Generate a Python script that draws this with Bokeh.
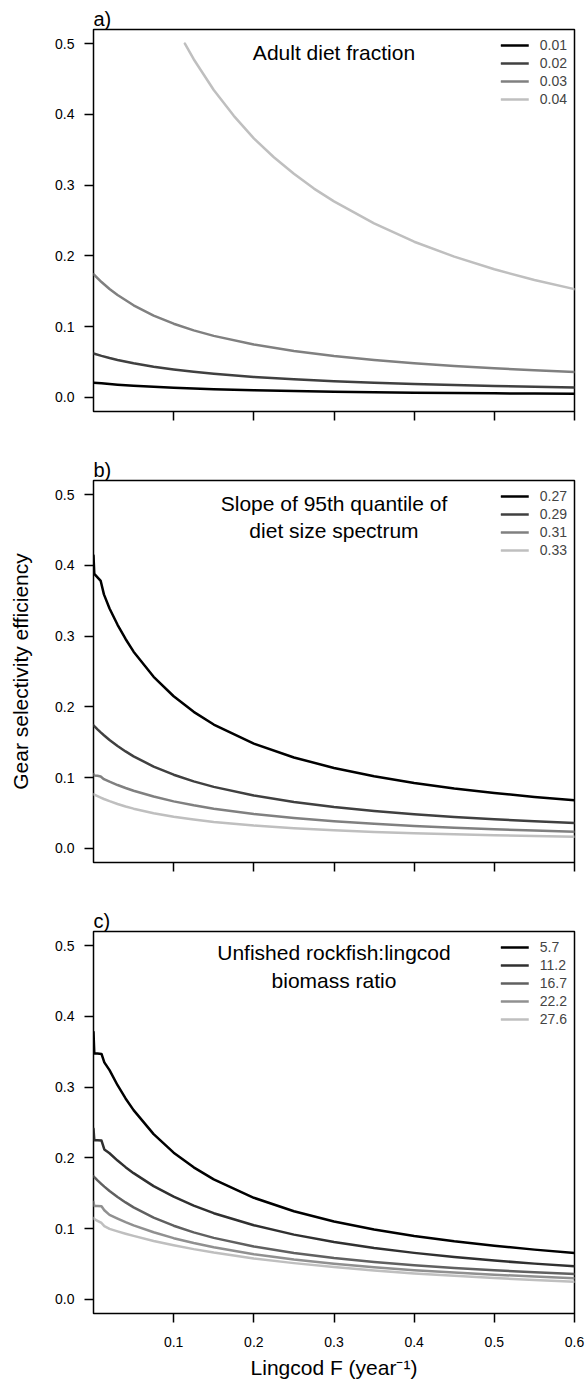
from bokeh.plotting import figure
from bokeh.models import (FixedTicker, NumeralTickFormatter, Range1d, Legend,
                          LegendItem, Label, CustomJSTickFormatter)
from bokeh.layouts import column
from bokeh.embed import file_html
from bokeh.resources import INLINE

# ---------------- data ----------------
# Panel a: adult diet fraction
FA = [0, 0.01, 0.02, 0.03, 0.05, 0.075, 0.1, 0.125, 0.15, 0.2, 0.25, 0.3,
      0.35, 0.4, 0.45, 0.5, 0.55, 0.6]
A_001 = [0.0208, 0.0198, 0.0188, 0.0179, 0.0164, 0.0149, 0.0136, 0.0125, 0.0116,
         0.0101, 0.0089, 0.0080, 0.0073, 0.0066, 0.0061, 0.0057, 0.0053, 0.0050]
A_002 = [0.0620, 0.0586, 0.0556, 0.0529, 0.0482, 0.0434, 0.0395, 0.0362, 0.0334,
         0.0289, 0.0255, 0.0228, 0.0207, 0.0189, 0.0174, 0.0161, 0.0150, 0.0140]
A_003 = [0.174, 0.163, 0.1532, 0.1446, 0.1301, 0.1156, 0.1041, 0.0947, 0.0869,
         0.0747, 0.0656, 0.0585, 0.0529, 0.0483, 0.0444, 0.0412, 0.0384, 0.036]
FA4 = [0.114, 0.125, 0.15, 0.175, 0.2, 0.225, 0.25, 0.275, 0.3, 0.35, 0.4,
       0.45, 0.5, 0.55, 0.6]
A_004 = [0.500, 0.478, 0.4345, 0.398, 0.366, 0.3394, 0.316, 0.2951, 0.277,
         0.246, 0.220, 0.199, 0.181, 0.166, 0.153]
A_LABELS = ["0.01", "0.02", "0.03", "0.04"]

# Panel b: slope of 95th quantile of diet size spectrum
FB = [0, 0.001, 0.005, 0.009, 0.013, 0.02, 0.03, 0.04, 0.05, 0.075, 0.1, 0.125,
      0.15, 0.2, 0.25, 0.3, 0.35, 0.4, 0.45, 0.5, 0.55, 0.6]
B_027 = [0.414, 0.388, 0.383, 0.378, 0.359, 0.339, 0.316, 0.296, 0.278, 0.2425,
         0.215, 0.193, 0.175, 0.148, 0.1285, 0.1136, 0.1019, 0.0925, 0.0847,
         0.0782, 0.0727, 0.068]
B_029 = [0.174, 0.1728, 0.1683, 0.164, 0.1599, 0.1532, 0.1446, 0.137, 0.1301,
         0.1156, 0.1041, 0.0947, 0.0869, 0.0747, 0.0656, 0.0585, 0.0529, 0.0483,
         0.0444, 0.0412, 0.0384, 0.036]
B_031 = [0.105, 0.103, 0.1025, 0.1015, 0.0978, 0.0942, 0.0895, 0.0853, 0.0814,
         0.0732, 0.0664, 0.0608, 0.0561, 0.0486, 0.0429, 0.0384, 0.0347, 0.0317,
         0.0292, 0.0271, 0.0252, 0.0236]
B_033 = [0.0764, 0.0758, 0.0737, 0.0717, 0.0698, 0.0667, 0.0627, 0.0592, 0.0561,
         0.0497, 0.0447, 0.0407, 0.0373, 0.0322, 0.0284, 0.0255, 0.0232, 0.0214,
         0.0198, 0.0185, 0.0174, 0.0165]
B_LABELS = ["0.27", "0.29", "0.31", "0.33"]

# Panel c: unfished rockfish:lingcod biomass ratio
FC = [0, 0.001, 0.005, 0.01, 0.0135, 0.02, 0.03, 0.04, 0.05, 0.075, 0.1, 0.125,
      0.15, 0.2, 0.25, 0.3, 0.35, 0.4, 0.45, 0.5, 0.55, 0.6]
C_57 = [0.378, 0.3475, 0.3475, 0.347, 0.335, 0.324, 0.3027, 0.284, 0.2675,
        0.2336, 0.2074, 0.1866, 0.1696, 0.1436, 0.1246, 0.110, 0.0988, 0.0896,
        0.082, 0.0757, 0.0703, 0.0656]
C_112 = [0.241, 0.225, 0.225, 0.2245, 0.212, 0.2065, 0.1962, 0.1869, 0.1784,
         0.1601, 0.1451, 0.1325, 0.1218, 0.1047, 0.0915, 0.0811, 0.0727, 0.0657,
         0.0598, 0.0548, 0.0505, 0.0467]
C_167 = [0.174, 0.1728, 0.1683, 0.163, 0.1594, 0.1532, 0.1446, 0.137, 0.1301,
         0.1156, 0.1041, 0.0947, 0.0869, 0.0747, 0.0656, 0.0585, 0.0529, 0.0483,
         0.0444, 0.0412, 0.0384, 0.036]
C_222 = [0.1377, 0.132, 0.132, 0.1315, 0.126, 0.1194, 0.1141, 0.1091, 0.1046,
         0.0948, 0.0865, 0.0796, 0.0736, 0.0639, 0.0564, 0.0504, 0.0454, 0.0413,
         0.0378, 0.0349, 0.0323, 0.030]
C_276 = [0.115, 0.1135, 0.111, 0.108, 0.1035, 0.0996, 0.0961, 0.0928, 0.0897,
         0.0826, 0.0765, 0.071, 0.0662, 0.0579, 0.0512, 0.0456, 0.0408, 0.0367,
         0.0332, 0.0301, 0.0274, 0.025]
C_LABELS = ["5.7", "11.2", "16.7", "22.2", "27.6"]

X_TICKS = [0.1, 0.2, 0.3, 0.4, 0.5, 0.6]
Y_TICKS = [0.0, 0.1, 0.2, 0.3, 0.4, 0.5]

GRAYS4 = ["#000000", "#404040", "#808080", "#BFBFBF"]
GRAYS5 = ["#000000", "#303030", "#606060", "#909090", "#BFBFBF"]

FONT = "Liberation Sans"
FW, FH = 481, 382


def make_panel(letter, title, series, labels, colors, bottom, show_x, ylabel=None,
               xlabel=None, title_y=359):
    p = figure(frame_width=FW, frame_height=FH, x_range=Range1d(0, 0.6),
               y_range=Range1d(-0.02, 0.52), output_backend="svg",
               toolbar_location=None, title=letter,
               min_border_left=93, min_border_right=12, min_border_top=29,
               min_border_bottom=bottom)
    p.title.align = "left"
    p.title.offset = 0
    p.title.standoff = 0
    p.title.text_font = FONT
    p.title.text_font_size = "20px"
    p.title.text_font_style = "normal"
    p.title.text_color = "black"
    p.background_fill_color = "white"
    p.border_fill_color = "white"
    p.grid.visible = False
    p.outline_line_color = "black"
    p.outline_line_width = 1.5
    for ax in (p.xaxis[0], p.yaxis[0]):
        ax.axis_line_color = None
        ax.major_tick_out = 9
        ax.major_tick_in = 0
        ax.minor_tick_out = 0
        ax.minor_tick_in = 0
        ax.major_tick_line_width = 1.5
        ax.major_tick_line_color = "black"
        ax.major_label_text_font = FONT
        ax.major_label_text_font_size = "14px"
        ax.major_label_text_color = "black"
        ax.axis_label_text_font = FONT
        ax.axis_label_text_font_size = "21px"
        ax.axis_label_text_font_style = "normal"
        ax.axis_label_text_color = "black"
    p.yaxis.major_label_standoff = 10
    p.xaxis.major_label_standoff = 14
    p.xaxis.ticker = FixedTicker(ticks=X_TICKS)
    p.yaxis.ticker = FixedTicker(ticks=Y_TICKS)
    p.yaxis.formatter = NumeralTickFormatter(format="0.0")
    if show_x:
        p.xaxis.formatter = NumeralTickFormatter(format="0.0")
    else:
        p.xaxis.formatter = CustomJSTickFormatter(code="return ''")
    if ylabel:
        p.yaxis.axis_label = ylabel
        p.yaxis.axis_label_standoff = 20
    if xlabel:
        p.xaxis.axis_label = xlabel
        p.xaxis.axis_label_standoff = 6

    items = []
    for (xs, ys), lab, col in zip(series, labels, colors):
        r = p.line(xs, ys, line_color=col, line_width=2.5, line_join="round",
                   line_cap="round")
        items.append(LegendItem(label=lab, renderers=[r]))
    leg = Legend(items=items, location="top_right", margin=7, padding=0,
                 spacing=0, glyph_width=28, glyph_height=18, label_height=18,
                 label_standoff=11, label_text_font=FONT,
                 label_text_font_size="14px", border_line_color=None,
                 background_fill_alpha=0)
    p.add_layout(leg)

    p.add_layout(Label(x=FW / 2, y=title_y, x_units="screen", y_units="screen",
                       text=title, text_align="center", text_baseline="middle",
                       text_font=FONT, text_font_size="21px", text_color="black"))
    return p


pa = make_panel("a)", "Adult diet fraction",
                [(FA, A_001), (FA, A_002), (FA, A_003), (FA4, A_004)],
                A_LABELS, GRAYS4, bottom=40, show_x=False, title_y=FH - 23)
pb = make_panel("b)", "Slope of 95th quantile of\ndiet size spectrum",
                [(FB, B_027), (FB, B_029), (FB, B_031), (FB, B_033)],
                B_LABELS, GRAYS4, bottom=40, show_x=False,
                ylabel="Gear selectivity efficiency", title_y=FH - 36.3)
pc = make_panel("c)", "Unfished rockfish:lingcod\nbiomass ratio",
                [(FC, C_57), (FC, C_112), (FC, C_167), (FC, C_222), (FC, C_276)],
                C_LABELS, GRAYS5, bottom=69, show_x=True,
                xlabel="Lingcod F (year\u207b\u00b9)", title_y=FH - 35)

layout = column(pa, pb, pc, spacing=0)
open("out.html", "w").write(file_html(layout, INLINE))
